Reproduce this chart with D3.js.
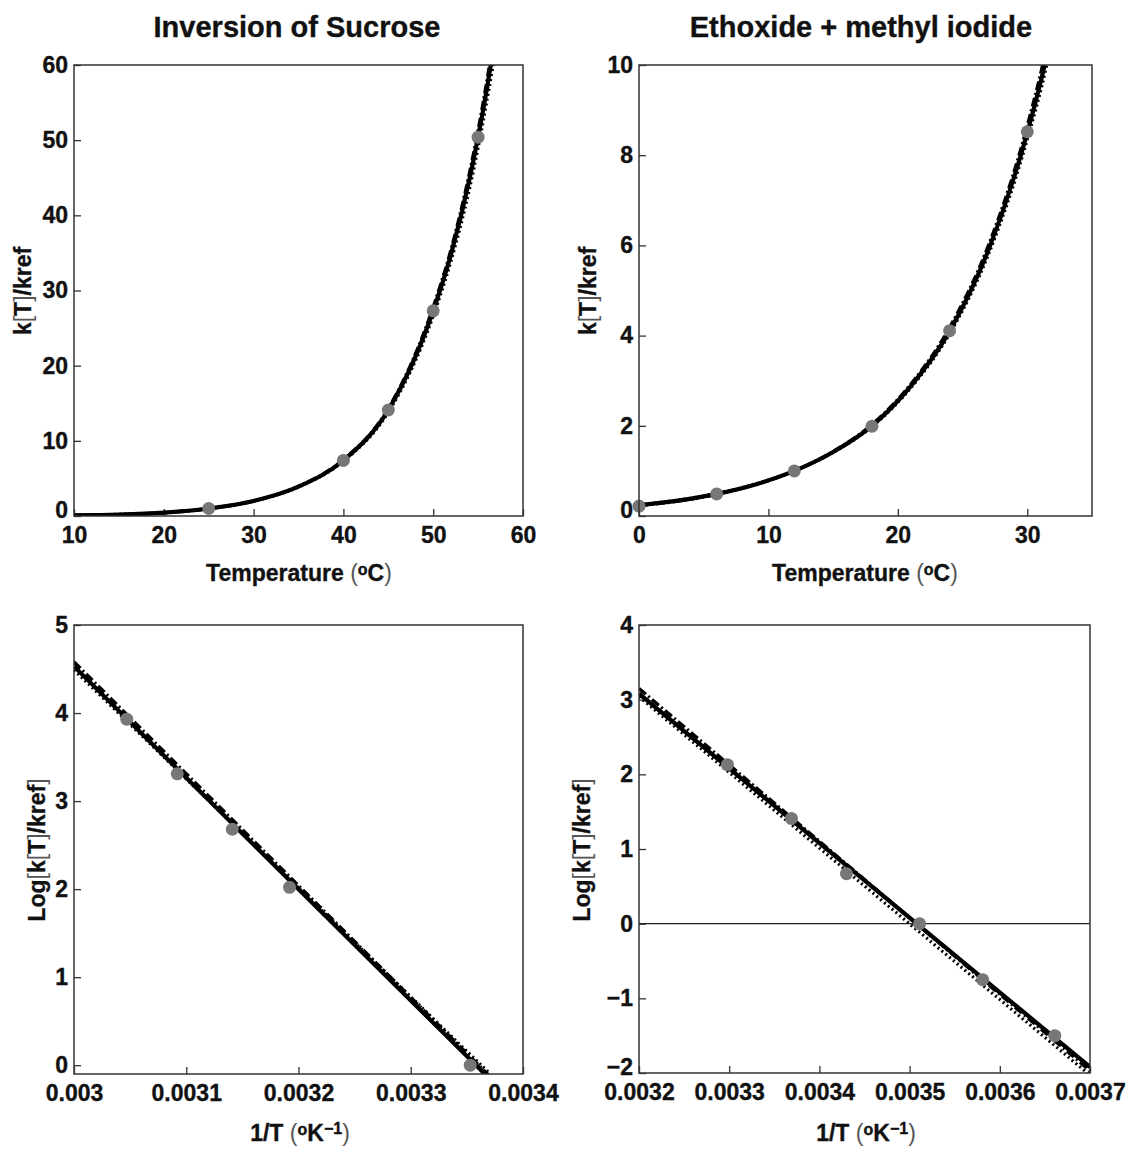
<!DOCTYPE html>
<html>
<head>
<meta charset="utf-8">
<script src="https://cdn.jsdelivr.net/npm/d3@7"></script>
<style>
  body { margin: 0; background: #fff; }
  svg { font-family: "Liberation Sans", Arial, sans-serif; font-weight: bold; }
  text { stroke: #111; stroke-width: 0.35px; }
</style>
</head>
<body>
<svg id="chart" width="1128" height="1149"></svg>
<script>
// ---- data ----
// Inversion of sucrose, k(T)/kref vs temperature
const sucroseTemp = [25, 40, 45, 50, 55];
const sucroseRate = [1.0, 7.4, 14.1, 27.3, 50.4];
const sucroseCurveT = [10, 15, 20, 25, 30, 35, 40, 45, 50, 52, 54, 55, 56, 56.5, 57];
const sucroseCurveSolid = [0.1, 0.2, 0.45, 1.0, 2.0, 3.9, 7.4, 14.1, 27.3, 34.9, 44.6, 50.4, 57.0, 60.6, 64];
const sucroseCurveDash = [0.09, 0.19, 0.43, 0.98, 2.0, 3.95, 7.5, 14.3, 27.8, 35.5, 45.4, 51.3, 58.0, 61.6, 65];
const sucroseCurveDot = [0.11, 0.22, 0.47, 1.0, 2.0, 3.85, 7.3, 13.8, 26.6, 34.0, 43.3, 49.0, 55.4, 58.8, 62.2];

// Ethoxide + methyl iodide, k(T)/kref vs temperature
const ethTemp = [0, 6, 12, 18, 24, 30];
const ethRate = [0.22, 0.49, 1.0, 1.99, 4.11, 8.52];
const ethCurveT = [0, 3, 6, 9, 12, 15, 18, 21, 24, 27, 30, 31.5, 32];
const ethCurveSolid = [0.24, 0.34, 0.49, 0.7, 1.0, 1.42, 2.0, 2.88, 4.1, 5.9, 8.5, 10.2, 10.9];
const ethCurveDash = [0.23, 0.33, 0.48, 0.7, 1.0, 1.43, 2.03, 2.92, 4.18, 6.0, 8.65, 10.4, 11.1];
const ethCurveDot = [0.25, 0.35, 0.5, 0.71, 1.0, 1.41, 1.98, 2.84, 4.04, 5.8, 8.35, 10.0, 10.7];

// Arrhenius plots, log(k/kref) vs 1/T
const sucroseInvT = [0.003047, 0.003092, 0.003141, 0.003192, 0.003353];
const sucroseLogK = [3.93, 3.31, 2.68, 2.02, 0];
const sucroseFitX = [0.0030, 0.00337];
const sucroseFitSolid = [4.53, -0.15];
const sucroseFitDash = [4.58, -0.12];
const sucroseFitDot = [4.49, -0.09];

const ethInvT = [0.003298, 0.003369, 0.00343, 0.003511, 0.003581, 0.003661];
const ethLogK = [2.13, 1.41, 0.67, 0, -0.75, -1.5];
const ethFitX = [0.0032, 0.0037];
const ethFitSolid = [3.08, -1.92];
const ethFitDash = [3.15, -1.97];
const ethFitDot = [3.04, -2.03];

// tick values
const sucroseTempTicks = [10, 20, 30, 40, 50, 60];
const sucroseRateTicks = [0, 10, 20, 30, 40, 50, 60];
const ethTempTicks = [0, 10, 20, 30];
const ethRateTicks = [0, 2, 4, 6, 8, 10];
const sucroseInvTicks = [0.003, 0.0031, 0.0032, 0.0033, 0.0034];
const sucroseLogTicks = [0, 1, 2, 3, 4, 5];
const ethInvTicks = [0.0032, 0.0033, 0.0034, 0.0035, 0.0036, 0.0037];
const ethLogTicks = [-2, -1, 0, 1, 2, 3, 4];

const svg = d3.select("#chart");
const fmtMinus = d => (d < 0 ? "\u2212" + Math.abs(d) : String(d));

const lineStyles = [
  { width: 4.2, dash: null },
  { width: 3.4, dash: "9,3,2,3" },
  { width: 3.2, dash: "2,3" }
];

function zip(a, b) { return a.map((v, i) => [v, b[i]]); }

function panel(id, box, xDomain, yDomain, xTicks, yTicks, xFmt, curves, points, zeroLine) {
  const x = d3.scaleLinear().domain(xDomain).range([box.left, box.right]);
  const y = d3.scaleLinear().domain(yDomain).range([box.bottom, box.top]);
  const g = svg.append("g");

  g.append("clipPath").attr("id", id)
    .append("rect")
    .attr("x", box.left).attr("y", box.top)
    .attr("width", box.right - box.left).attr("height", box.bottom - box.top);

  const xAxis = d3.axisBottom(x).tickValues(xTicks).tickFormat(xFmt)
    .tickSizeInner(-7).tickSizeOuter(0).tickPadding(11);
  const yAxis = d3.axisLeft(y).tickValues(yTicks).tickFormat(fmtMinus)
    .tickSizeInner(-7).tickSizeOuter(0).tickPadding(6);

  const gx = g.append("g").attr("transform", `translate(0,${box.bottom})`).call(xAxis);
  const gy = g.append("g").attr("transform", `translate(${box.left},0)`).call(yAxis);
  [gx, gy].forEach(a => {
    a.select(".domain").remove();
    a.selectAll("line").attr("stroke", "#333").attr("stroke-width", 1.3);
    a.selectAll("text").attr("font-size", 23).attr("font-weight", "bold")
      .attr("font-family", "Liberation Sans, Arial, sans-serif").attr("fill", "#111");
  });
  // the lowest y label sits just above the corner, clear of the x labels
  gy.selectAll(".tick text").filter(d => d === yTicks[0] && d === yDomain[0]).attr("dy", "0.05em");

  if (zeroLine) {
    g.append("line")
      .attr("x1", box.left).attr("x2", box.right)
      .attr("y1", y(0)).attr("y2", y(0))
      .attr("stroke", "#222").attr("stroke-width", 1.3);
  }

  const line = d3.line().x(d => x(d[0])).y(d => y(d[1])).curve(d3.curveMonotoneX);
  const plot = g.append("g").attr("clip-path", `url(#${id})`);
  curves.forEach((c, i) => {
    plot.append("path")
      .attr("d", line(c))
      .attr("fill", "none")
      .attr("stroke", "#000")
      .attr("stroke-width", lineStyles[i].width)
      .attr("stroke-dasharray", lineStyles[i].dash);
  });

  g.selectAll(".pt").data(points).join("circle")
    .attr("cx", d => x(d[0])).attr("cy", d => y(d[1]))
    .attr("r", 6.5).attr("fill", "#777");

  g.append("rect")
    .attr("x", box.left).attr("y", box.top)
    .attr("width", box.right - box.left).attr("height", box.bottom - box.top)
    .attr("fill", "none").attr("stroke", "#333").attr("stroke-width", 1.5);
}

// top left
panel("c1", { left: 74, top: 65, right: 523, bottom: 516 }, [10, 60], [0, 60],
  sucroseTempTicks, sucroseRateTicks, d => d,
  [zip(sucroseCurveT, sucroseCurveSolid), zip(sucroseCurveT, sucroseCurveDash), zip(sucroseCurveT, sucroseCurveDot)],
  zip(sucroseTemp, sucroseRate), false);

// top right
panel("c2", { left: 639, top: 65, right: 1092, bottom: 516 }, [0, 35], [0, 10],
  ethTempTicks, ethRateTicks, d => d,
  [zip(ethCurveT, ethCurveSolid), zip(ethCurveT, ethCurveDash), zip(ethCurveT, ethCurveDot)],
  zip(ethTemp, ethRate), false);

// bottom left
panel("c3", { left: 74, top: 625, right: 523, bottom: 1074 }, [0.003, 0.0034], [-0.1, 5],
  sucroseInvTicks, sucroseLogTicks, d => String(+d.toFixed(4)),
  [zip(sucroseFitX, sucroseFitSolid), zip(sucroseFitX, sucroseFitDash), zip(sucroseFitX, sucroseFitDot)],
  zip(sucroseInvT, sucroseLogK), false);

// bottom right
panel("c4", { left: 639, top: 625, right: 1090, bottom: 1073 }, [0.0032, 0.0037], [-2, 4],
  ethInvTicks, ethLogTicks, d => String(+d.toFixed(4)),
  [zip(ethFitX, ethFitSolid), zip(ethFitX, ethFitDash), zip(ethFitX, ethFitDot)],
  zip(ethInvT, ethLogK), true);

// titles
function title(txt, cx) {
  svg.append("text").attr("x", cx).attr("y", 37).attr("text-anchor", "middle")
    .attr("font-size", 29).attr("fill", "#111").text(txt);
}
title("Inversion of Sucrose", 297);
title("Ethoxide + methyl iodide", 861);

// axis titles
function tempLabel(cx) {
  const t = svg.append("text").attr("x", cx).attr("y", 581).attr("text-anchor", "middle")
    .attr("font-size", 23).attr("fill", "#111");
  t.append("tspan").text("Temperature ");
  t.append("tspan").attr("font-weight", "normal").attr("fill", "#555").attr("stroke", "none").text("(");
  t.append("tspan").attr("font-size", 16).attr("baseline-shift", "35%").text("o");
  t.append("tspan").text("C");
  t.append("tspan").attr("font-weight", "normal").attr("fill", "#555").attr("stroke", "none").text(")");
}
tempLabel(299);
tempLabel(865);

function invLabel(cx) {
  const t = svg.append("text").attr("x", cx).attr("y", 1141).attr("text-anchor", "middle")
    .attr("font-size", 23).attr("fill", "#111");
  t.append("tspan").text("1/T ");
  t.append("tspan").attr("font-weight", "normal").attr("fill", "#555").attr("stroke", "none").text("(");
  t.append("tspan").attr("font-size", 16).attr("baseline-shift", "35%").text("o");
  t.append("tspan").text("K");
  t.append("tspan").attr("font-size", 16).attr("baseline-shift", "45%").text("\u22121");
  t.append("tspan").attr("font-weight", "normal").attr("fill", "#555").attr("stroke", "none").text(")");
}
invLabel(300);
invLabel(866);

function kLabel(x, cy, log) {
  const t = svg.append("text").attr("transform", `translate(${x},${cy}) rotate(-90)`)
    .attr("text-anchor", "middle").attr("font-size", 23).attr("fill", "#111");
  if (log) {
    t.append("tspan").text("Log");
    t.append("tspan").attr("font-weight", "normal").attr("fill", "#555").attr("stroke", "none").text("[");
  }
  t.append("tspan").text("k");
  t.append("tspan").attr("font-weight", "normal").attr("fill", "#555").attr("stroke", "none").text("[");
  t.append("tspan").text("T");
  t.append("tspan").attr("font-weight", "normal").attr("fill", "#555").attr("stroke", "none").text("]");
  t.append("tspan").text("/kref");
  if (log) t.append("tspan").attr("font-weight", "normal").attr("fill", "#555").attr("stroke", "none").text("]");
}
kLabel(31, 291, false);
kLabel(596, 291, false);
kLabel(45, 850, true);
kLabel(590, 850, true);
</script>
</body>
</html>
